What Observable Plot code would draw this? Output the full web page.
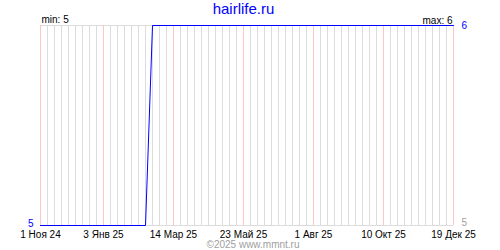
<!DOCTYPE html>
<html>
<head>
<meta charset="utf-8">
<script src="https://cdn.jsdelivr.net/npm/d3@7"></script>
<script src="https://cdn.jsdelivr.net/npm/@observablehq/plot@0.6"></script>
<style>
  html, body { margin: 0; padding: 0; background: #fff; }
</style>
</head>
<body>
<div id="chart"></div>
<script>
// Series (change points of the step)
const dates = ["2024-11-01", "2025-02-14", "2025-02-21", "2025-12-19"];
const values = [5, 5, 6, 6];

// Axis ticks
const tickDates = ["2024-11-01", "2025-01-03", "2025-03-14", "2025-05-23", "2025-08-01", "2025-10-10", "2025-12-19"];
const tickLabels = ["1 Ноя 24", "3 Янв 25", "14 Мар 25", "23 Май 25", "1 Авг 25", "10 Окт 25", "19 Дек 25"];

const titleText = "hairlife.ru";
const captionText = "©2025 www.mmnt.ru";
const minValue = 5;
const maxValue = 6;

const parse = s => new Date(s + "T00:00:00Z");
const data = dates.map((d, i) => ({date: parse(d), value: values[i]}));
const ticks = tickDates.map(parse);
const labelOf = new Map(ticks.map((t, i) => [+t, tickLabels[i]]));
const start = ticks[0], end = ticks[ticks.length - 1];

// weekly grid lines
const weeks = [];
for (let t = +start; t <= +end; t += 7 * 864e5) weeks.push(new Date(t));

const chart = Plot.plot({
  width: 500,
  height: 250,
  marginLeft: 40,
  marginRight: 47,
  marginTop: 25,
  marginBottom: 25,
  style: {fontFamily: "'Liberation Sans', Arial, sans-serif", fontSize: "10px", background: "#fff", overflow: "visible"},
  x: {type: "utc", domain: [start, end]},
  y: {domain: [minValue, maxValue], axis: null},
  marks: [
    Plot.ruleX(weeks, {stroke: "#dcdcdc"}),
    Plot.ruleY([minValue, maxValue], {stroke: "#dcdcdc"}),
    Plot.ruleX(ticks, {stroke: "#ffc4c4"}),
    Plot.line(data, {x: "date", y: "value", stroke: "#0000ff", strokeWidth: 1}),
    Plot.axisX({ticks: ticks, tickFormat: d => labelOf.get(+d), tickSize: 0, tickPadding: 5, fill: "#000", fontSize: 10, label: null}),
    // y labels
    Plot.text([minValue], {x: () => start, y: d => d, text: d => String(d), textAnchor: "end", dx: -7, dy: -1.5, fill: "#0000ff", fontSize: 10}),
    Plot.text([maxValue], {x: () => end, y: d => d, text: d => String(d), textAnchor: "start", dx: 8, fill: "#0000ff", fontSize: 10}),
    Plot.text([minValue], {x: () => end, y: d => d, text: d => String(d), textAnchor: "start", dx: 8, dy: -3, fill: "#a0a0a0", fontSize: 10}),
    // min / max
    Plot.text(["min: " + minValue], {frameAnchor: "top-left", text: d => d, textAnchor: "start", lineAnchor: "bottom", dx: 1, dy: -3, fill: "#000", fontSize: 10}),
    Plot.text(["max: " + maxValue], {frameAnchor: "top-right", text: d => d, textAnchor: "end", lineAnchor: "bottom", dx: -1, dy: -2, fill: "#000", fontSize: 10}),
    // title & caption
    Plot.text([titleText], {frameAnchor: "top", text: d => d, lineAnchor: "bottom", dx: -3.5, dy: -12, fill: "#0000ff", fontSize: 15}),
    Plot.text([captionText], {frameAnchor: "bottom", text: d => d, lineAnchor: "bottom", dx: 6, dy: 22.5, fill: "#a0a0a0", fontSize: 10})
  ]
});
document.getElementById("chart").appendChild(chart);
</script>
</body>
</html>
